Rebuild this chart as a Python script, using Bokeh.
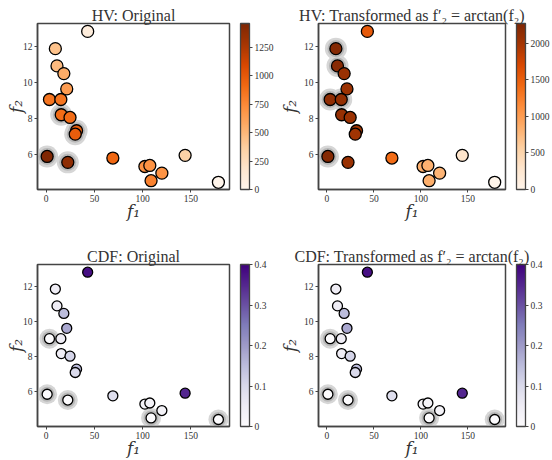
from bokeh.plotting import figure
from bokeh.layouts import gridplot
from bokeh.models import ColumnDataSource, LinearColorMapper, ColorBar, FixedTicker, Range1d
from bokeh.palettes import Oranges256, Purples256
from bokeh.embed import file_html
from bokeh.resources import INLINE

# ---- data ----
f1 = [43.0, 9.5, 11.2, 18.3, 21.3, 3.4, 15.2, 15.6, 24.7, 31.5,
      30.1, 1.0, 22.4, 69.1, 102.3, 107.4, 108.7, 119.9, 144.0, 178.5]
f2 = [12.83, 11.87, 10.91, 10.48, 9.63, 9.04, 9.04, 8.19, 8.04, 7.30,
      7.11, 5.87, 5.54, 5.78, 5.31, 5.37, 4.52, 4.94, 5.93, 4.43]

hv_original = [100, 440, 480, 560, 650, 850, 850, 900, 900, 980,
               980, 1450, 1390, 920, 700, 700, 790, 700, 350, 0]
hv_transformed = [1550, 2230, 2200, 2080, 2060, 2150, 2120, 2100, 2060, 2010,
                  2020, 2230, 2080, 1400, 850, 830, 850, 800, 300, 10]
cdf_original = [0.38, 0.05, 0.05, 0.15, 0.18, 0.0, 0.05, 0.05, 0.11, 0.15,
                0.10, 0.0, 0.0, 0.09, 0.03, 0.03, 0.0, 0.03, 0.35, 0.0]
cdf_transformed = [0.38, 0.05, 0.05, 0.15, 0.18, 0.0, 0.05, 0.05, 0.11, 0.15,
                   0.10, 0.0, 0.0, 0.09, 0.03, 0.03, 0.0, 0.03, 0.35, 0.0]

hl_hv_original = [7, 9, 10, 11, 12]
hl_hv_transformed = [1, 2, 5, 6, 11]
hl_cdf_original = [5, 11, 12, 16, 19]
hl_cdf_transformed = [5, 11, 12, 16, 19]

x_ticks = [0, 50, 100, 150]
y_ticks = [6, 8, 10, 12]
hv_orig_ticks = [0, 250, 500, 750, 1000, 1250]
hv_trans_ticks = [0, 500, 1000, 1500, 2000]
cdf_ticks = [0.0, 0.1, 0.2, 0.3, 0.4]

FONT = "Liberation Serif"
LFONT = "DejaVu Serif"
TXT = "#333333"


def panel(title, vals, palette, high, cticks, highlight, msize, hsize, w, h,
          bl, br, bt, bb, ystand):
    p = figure(width=w, height=h, output_backend="svg", toolbar_location=None,
               x_range=Range1d(-9, 190), y_range=Range1d(4.03, 13.27),
               min_border_left=bl, min_border_right=br,
               min_border_top=bt, min_border_bottom=bb)
    p.title.text = title
    p.title.align = "center"
    p.title.text_font = FONT
    p.title.text_font_style = "normal"
    p.title.text_font_size = "16px"
    p.title.text_color = TXT
    p.title.standoff = 0
    p.title.offset = 0
    p.xgrid.visible = False
    p.ygrid.visible = False
    p.outline_line_color = "#444444"
    p.outline_line_width = 1.5
    p.outline_line_alpha = 1
    for ax in (p.xaxis, p.yaxis):
        ax.major_label_text_font = FONT
        ax.major_label_text_font_size = "9.5px"
        ax.major_label_text_color = TXT
        ax.axis_label_text_font = LFONT
        ax.axis_label_text_font_style = "italic"
        ax.axis_label_text_font_size = "17px"
        ax.axis_label_text_color = TXT
        ax.minor_tick_line_color = None
        ax.major_tick_in = 0
        ax.major_tick_out = 3
        ax.major_tick_line_color = "#444444"
        ax.axis_line_color = "#444444"
        ax.axis_line_width = 1.5
        ax.major_label_standoff = 2
    p.xaxis.axis_label_standoff = -4
    p.yaxis.axis_label_standoff = ystand
    p.xaxis.ticker = FixedTicker(ticks=x_ticks)
    p.yaxis.ticker = FixedTicker(ticks=y_ticks)
    p.xaxis.axis_label = "f\u2081"
    p.yaxis.axis_label = "f\u2082"

    mapper = LinearColorMapper(palette=list(palette)[::-1], low=0, high=high)
    hx = [f1[i] for i in highlight]
    hy = [f2[i] for i in highlight]
    p.scatter(hx, hy, size=hsize, fill_color="#d6d6d6", line_color=None)
    p.scatter(hx, hy, size=hsize - 5, fill_color="#b8b8b8", line_color=None)
    src = ColumnDataSource(dict(x=f1, y=f2, v=vals))
    p.scatter("x", "y", source=src, size=msize,
              fill_color={"field": "v", "transform": mapper},
              line_color="black", line_width=1.3)

    cb = ColorBar(color_mapper=mapper, width=9, padding=0, margin=0,
                  ticker=FixedTicker(ticks=cticks),
                  major_tick_in=0, major_tick_out=3,
                  major_tick_line_color="#444444",
                  minor_tick_line_color=None,
                  bar_line_color="#444444", bar_line_width=1.3,
                  major_label_text_font=FONT,
                  major_label_text_font_size="9.5px",
                  major_label_text_color=TXT,
                  label_standoff=2, location=(11, 0))
    p.add_layout(cb, "right")
    return p


p1 = panel("HV: Original", hv_original, Oranges256, 1460, hv_orig_ticks,
           hl_hv_original, 12, 22, 276, 228, 37, 46, 23, 39, -6)
p2 = panel("HV: Transformed as f\u2032\u2082 = arctan(f\u2082)", hv_transformed,
           Oranges256, 2270, hv_trans_ticks, hl_hv_transformed, 12, 22,
           276, 228, 41, 43, 23, 39, 1)
p3 = panel("CDF: Original", cdf_original, Purples256, 0.4, cdf_ticks,
           hl_cdf_original, 10, 20, 276, 232, 37, 46, 36, 32, -6)
p4 = panel("CDF: Transformed as f\u2032\u2082 = arctan(f\u2082)", cdf_transformed,
           Purples256, 0.4, cdf_ticks, hl_cdf_transformed, 10, 20,
           276, 232, 41, 43, 36, 32, 1)

grid = gridplot([[p1, p2], [p3, p4]], toolbar_location=None)
open("out.html", "w").write(file_html(grid, INLINE))
